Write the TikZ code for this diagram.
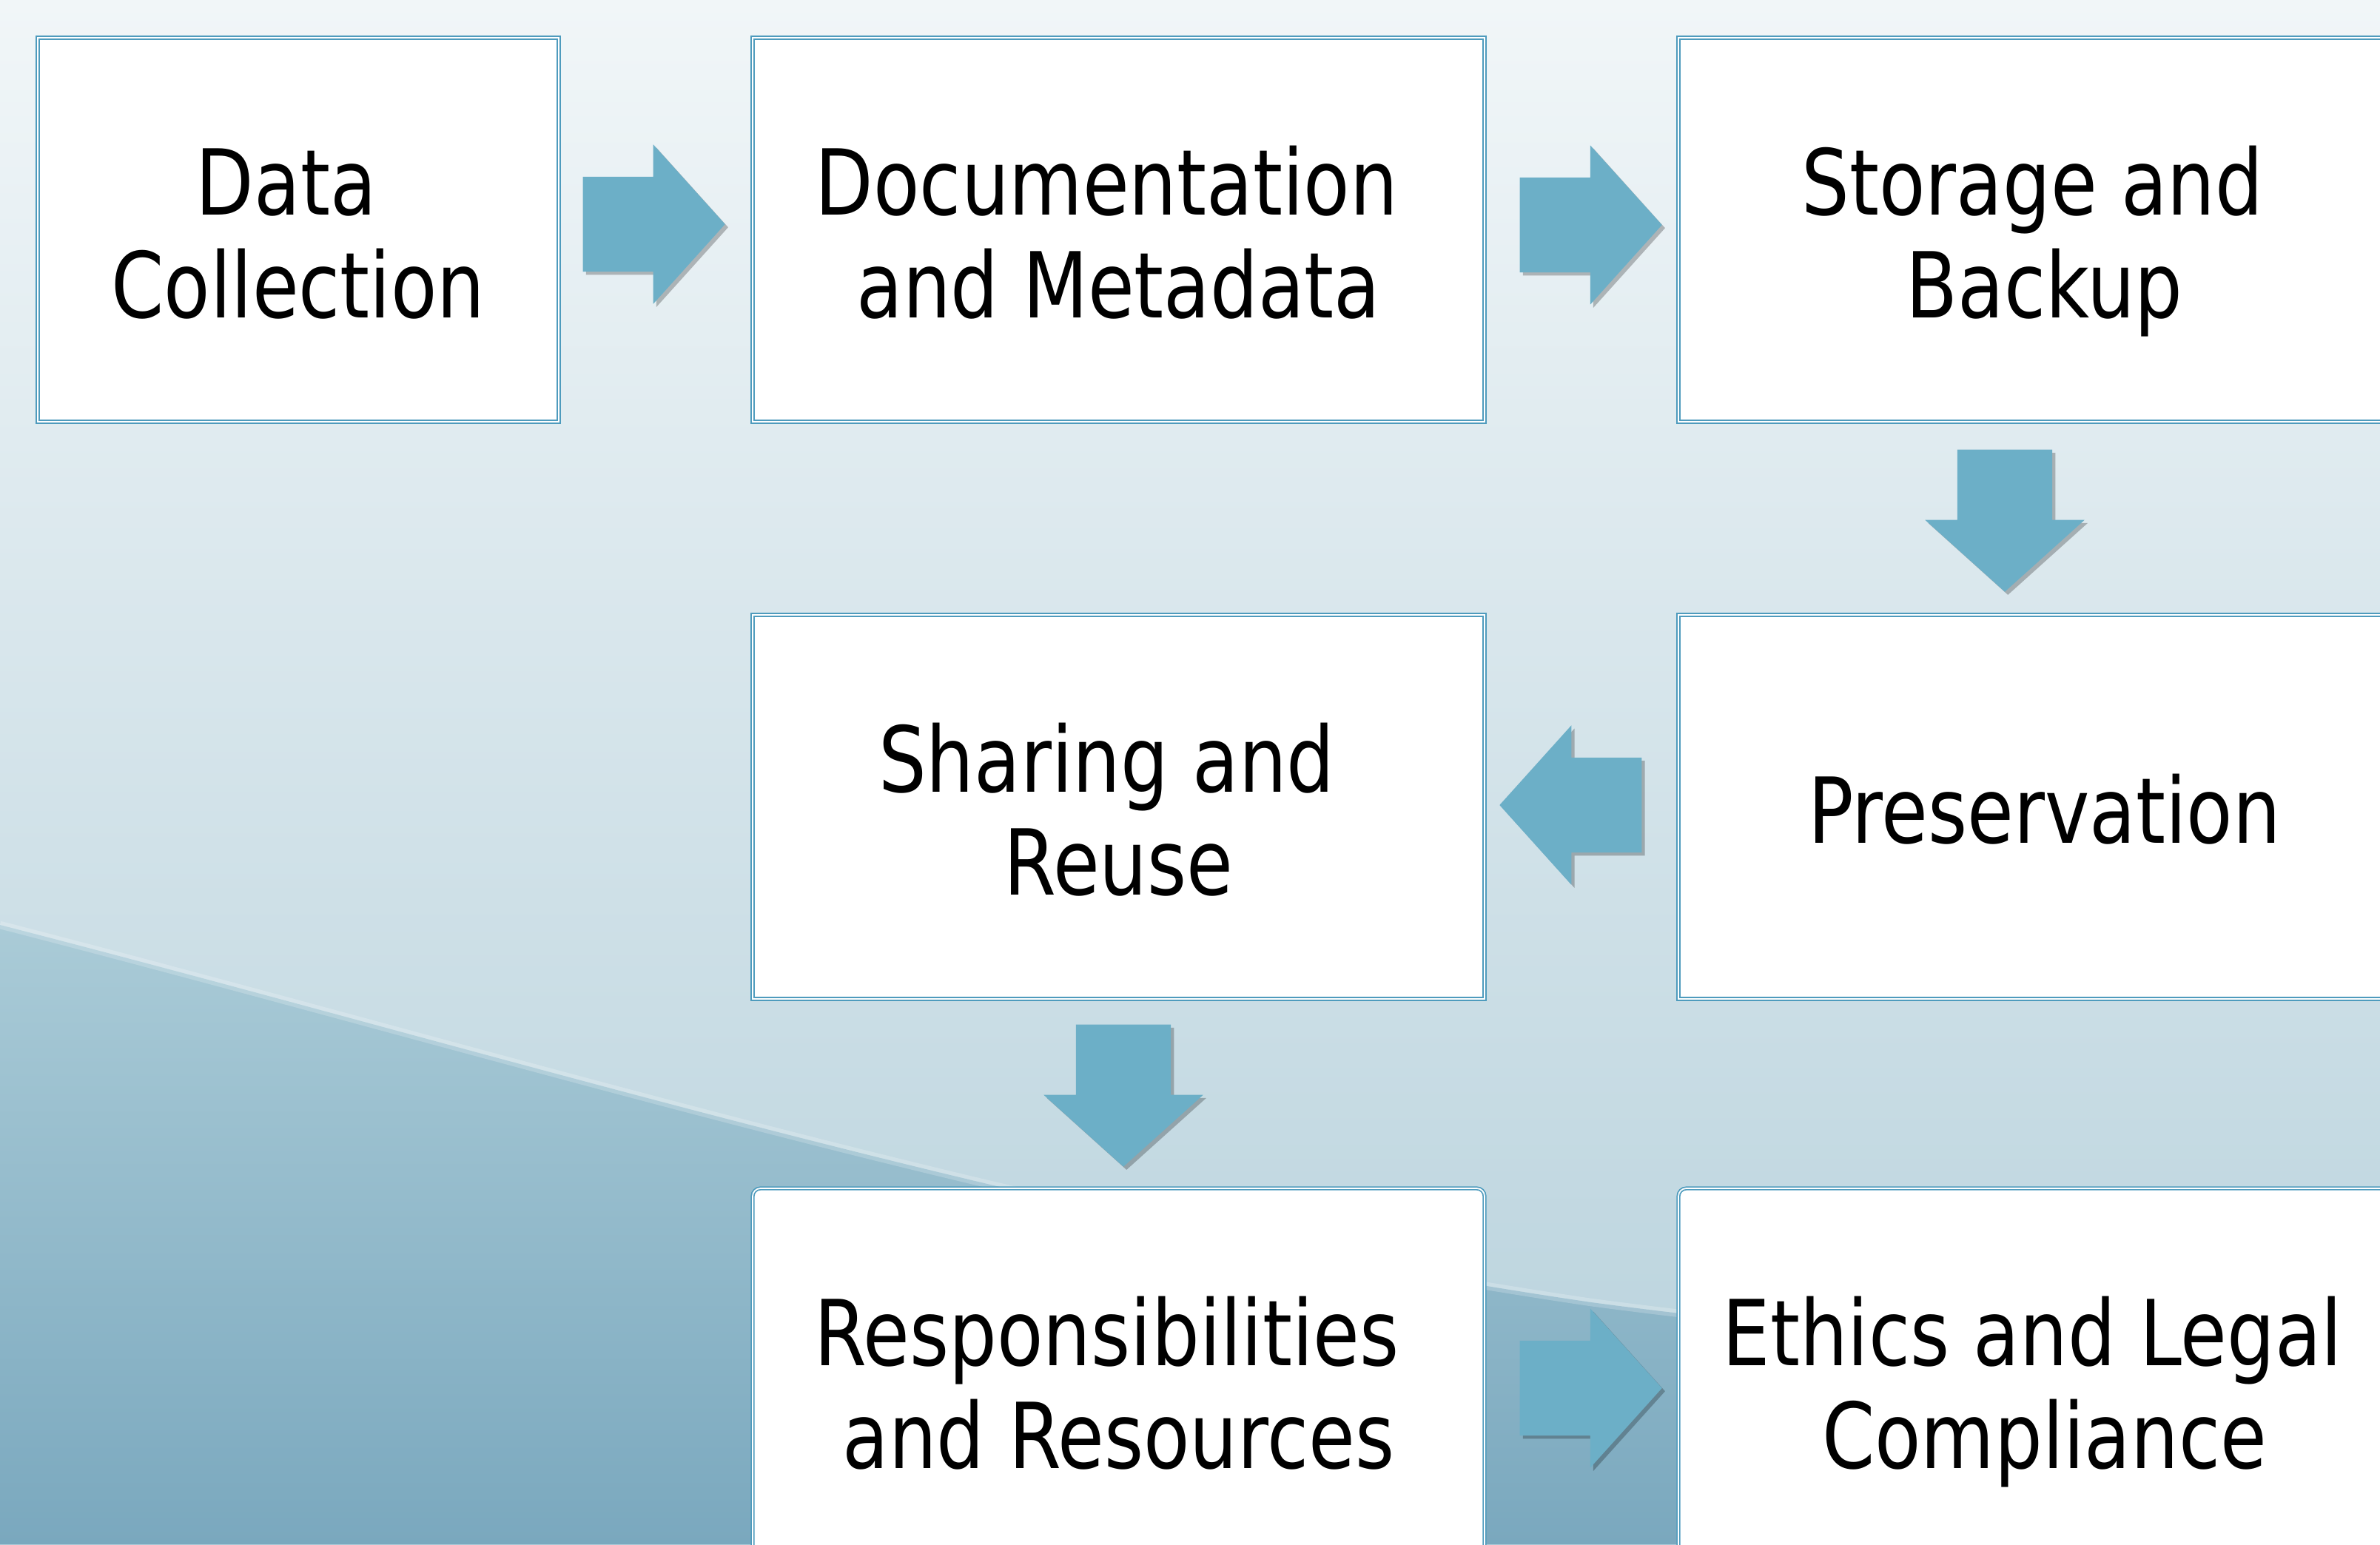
\documentclass[tikz,border=0pt]{standalone}
\usepackage{fontspec}
\setmainfont{DejaVu Sans}[FakeStretch=0.83]
\usetikzlibrary{calc,shapes.arrows,shadows}

\definecolor{bgtop}{HTML}{F1F6F8}
\definecolor{bgmid}{HTML}{D1E4EA}
\definecolor{bgbot}{HTML}{B5D0DB}
\definecolor{wavetop}{HTML}{AACBD7}
\definecolor{wavebot}{HTML}{7AA8BE}
\definecolor{boxline}{HTML}{4E9BBD}
\definecolor{flowblue}{HTML}{6CAFC7}

% struts so first and last lines sit the same in every box
\newcommand\upstrut{\rule{0pt}{37pt}}
\newcommand\dnstrut{\rule[-9pt]{0pt}{9pt}}

\begin{document}
\begin{tikzpicture}[
    box/.style={rectangle, draw=boxline, double=white, double distance=0.5pt, line width=0.5pt,
        fill=white, minimum width=9.89cm, minimum height=5.19cm, inner sep=0pt, align=center,
        font=\fontsize{35}{39.6}\selectfont},
    roundbox/.style={box, rounded corners=3pt},
    flow/.style={single arrow, fill=flowblue, draw=none, inner xsep=0pt, inner ysep=0.635cm,
        minimum height=1.92cm, minimum width=2.14cm, anchor=tail,
        single arrow head extend=0.435cm, single arrow tip angle=96,
        drop shadow={shadow xshift=1.2pt, shadow yshift=-1.2pt, opacity=0.25, fill=black}}
]

\clip (0,0) rectangle (32.16,-20.87);

% Background
\shade[top color=bgtop, middle color=bgmid, bottom color=bgbot] (0,0) rectangle (32.16,-20.87);
\shade[top color=wavetop, bottom color=wavebot]
    (0,-12.5) .. controls (7,-14.3) and (14,-16.5) .. (21.5,-17.6)
    .. controls (26,-18.2) and (29,-18.2) .. (32.16,-18) -- (32.16,-20.87) -- (0,-20.87) -- cycle;
\draw[white, opacity=0.2, line width=3pt]
    (0,-12.5) .. controls (7,-14.3) and (14,-16.5) .. (21.5,-17.6)
    .. controls (26,-18.2) and (29,-18.2) .. (32.16,-18);

% Boxes
\node[box, minimum width=7.04cm] (coll) at (4.03,-3.105) {\upstrut Data\ \mbox{}\\Collection\dnstrut};
\node[box] (docu) at (15.115,-3.105) {\upstrut Documentation\ \mbox{}\\and Metadata\dnstrut};
\node[box] (store) at (27.625,-3.105) {\upstrut Storage and\ \mbox{}\\Backup\dnstrut};

\node[box] (share) at (15.115,-10.905) {\upstrut Sharing and\ \mbox{}\\Reuse\dnstrut};
\node[box] (pres) at (27.625,-10.905) {\upstrut Preservation\dnstrut};

\node[roundbox] (resp) at (15.115,-18.655) {\upstrut Responsibilities\ \mbox{}\\and Resources\dnstrut};
\node[roundbox] (ethic) at (27.625,-18.655) {\upstrut Ethics and Legal\ \mbox{}\\Compliance\dnstrut};

% Flow arrows (placed by their tails)
\node[flow] (a1) at ($(coll.east)!0.5!(docu.west)+(-0.99,0.075)$) {};
\node[flow] (a2) at ($(docu.east)!0.5!(store.west)+(-0.84,0.065)$) {};
\node[flow, rotate=-90] (a3) at ($(store.south)!0.5!(pres.north)+(-0.535,0.935)$) {};
\node[flow, rotate=180] (a4) at ($(pres.west)!0.5!(share.east)+(0.82,0.025)$) {};
\node[flow, rotate=-90] (a5) at ($(share.south)!0.5!(resp.north)+(0.065,0.94)$) {};
\node[flow] (a6) at ($(resp.east)!0.5!(ethic.west)+(-0.84,-0.105)$) {};

\end{tikzpicture}
\end{document}
